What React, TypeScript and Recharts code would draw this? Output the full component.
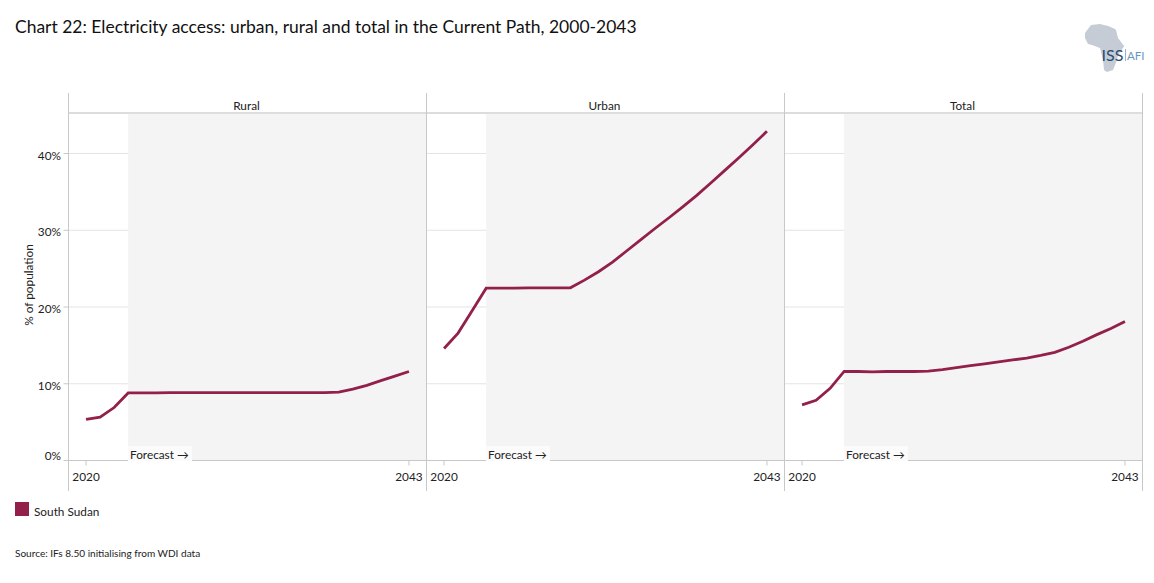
import React from "react";
import { LineChart, Line, XAxis, YAxis, CartesianGrid, ReferenceArea, ReferenceLine } from "recharts";

const years = [2020,2021,2022,2023,2024,2025,2026,2027,2028,2029,2030,2031,2032,2033,2034,2035,2036,2037,2038,2039,2040,2041,2042,2043];
const rural = [5.35,5.65,6.9,8.8,8.8,8.8,8.85,8.85,8.85,8.85,8.85,8.85,8.85,8.85,8.85,8.85,8.85,8.85,8.9,9.3,9.8,10.4,11.0,11.6];
const urban = [14.6,16.6,19.5,22.45,22.45,22.45,22.5,22.5,22.5,22.5,23.5,24.6,25.85,27.3,28.75,30.2,31.6,33.05,34.55,36.15,37.8,39.45,41.15,42.9];
const total = [7.25,7.85,9.4,11.6,11.6,11.55,11.6,11.6,11.6,11.65,11.85,12.1,12.35,12.6,12.85,13.1,13.35,13.7,14.1,14.75,15.55,16.4,17.2,18.1];
const yTicks = [0,10,20,30,40];
const xTicks = [2020,2043];
const panels = [
  { name: "Rural", values: rural },
  { name: "Urban", values: urban },
  { name: "Total", values: total },
];
const seriesName = "South Sudan";
const FONT = "Lato, Carlito, sans-serif";
const RED = "#93204a";
const GREY = "#c8c8c8";
const TOP = 113;
const BOTTOM = 460.5;
const PW = 358;
const X0 = 68.5;

const YTick = (p: any) => {
  const v = p.payload.value;
  const dy = v === 0 ? -1 : 6;
  return <text x={61} y={p.y + dy} textAnchor="end" fontSize={11.8} fill="#222" fontFamily={FONT}>{v}%</text>;
};
const XTick = (p: any) => (
  <text x={p.x} y={480.5} textAnchor="middle" fontSize={11.8} fill="#222" fontFamily={FONT}>{p.payload.value}</text>
);

function Panel({ i }: { i: number }) {
  const data = years.map((y, k) => ({ year: y, v: panels[i].values[k] }));
  const first = i === 0;
  const left = first ? 0 : Math.floor(X0 + PW * i);
  const ml = first ? 0 : X0 + PW * i - left;
  return (
    <div style={{ position: "absolute", left, top: 0 }}>
      <LineChart width={(first ? X0 : ml) + PW + 1} height={583} data={data}
        margin={{ top: TOP, bottom: 583 - BOTTOM - 30, left: ml, right: 1 }}>
        <ReferenceArea x1={2023} x2={2044.25} y1={0} y2={45.28} fill="#f4f4f4" fillOpacity={1} stroke="none" ifOverflow="hidden" />
        <CartesianGrid vertical={false} stroke="#e4e4e4" strokeWidth={1} />
        <XAxis dataKey="year" type="number" domain={[2018.75, 2044.25]} ticks={xTicks} tick={XTick as any}
          tickLine={{ stroke: GREY }} tickSize={5} axisLine={{ stroke: GREY }} height={30} allowDataOverflow />
        <YAxis type="number" domain={[0, 45.28]} ticks={yTicks} hide={!first} width={first ? X0 : 0} tick={YTick as any}
          tickLine={{ stroke: GREY }} tickSize={5} axisLine={false} allowDataOverflow
          label={{ value: "% of population", angle: -90, position: "insideLeft", offset: 29, fontSize: 11.8, fill: "#222", fontFamily: FONT, dy: 39 }} />
        <ReferenceLine y={45.28} stroke={GREY} strokeWidth={1} ifOverflow="extendDomain" />
        <Line dataKey="v" name={seriesName} stroke={RED} strokeWidth={2.8} dot={false} isAnimationActive={false} type="linear" />
      </LineChart>
      <div style={{ position: "absolute", left: (first ? X0 : ml) + 59.5, top: 446, width: 64, height: 14.5, background: "#fbfbfb", fontSize: 11.8, lineHeight: "18px", paddingLeft: 2, boxSizing: "border-box", color: "#222", whiteSpace: "nowrap" }}>Forecast →</div>
      <div style={{ position: "absolute", left: (first ? X0 : ml) - 1, width: PW, top: 98, textAlign: "center", fontSize: 11.8, color: "#222" }}>{panels[i].name}</div>
    </div>
  );
}

export default function App() {
  return (
    <div style={{ position: "absolute", left: 0, top: 0, width: 1154, height: 583, background: "#fff", fontFamily: FONT, overflow: "hidden" }}>
      <div style={{ position: "absolute", left: 15, top: 16, fontSize: 17.48, color: "#111", whiteSpace: "nowrap" }}>Chart 22: Electricity access: urban, rural and total in the Current Path, 2000-2043</div>
      {panels.map((_, i) => <Panel key={i} i={i} />)}
      {[0, 1, 2, 3].map((i) => (
        <div key={i} style={{ position: "absolute", left: 68 + PW * i, top: 93, width: 1, height: 398, background: GREY }} />
      ))}
      <div style={{ position: "absolute", left: 15, top: 502, width: 14, height: 14, background: RED }} />
      <div style={{ position: "absolute", left: 34, top: 504, fontSize: 11.8, color: "#222" }}>{seriesName}</div>
      <div style={{ position: "absolute", left: 15, top: 547, fontSize: 10.05, color: "#222" }}>Source: IFs 8.50 initialising from WDI data</div>
      <svg style={{ position: "absolute", left: 1050, top: 10 }} width={104} height={70}>
        <path d="M35 23 L41 15 L50 14 L58 16 L65 19 L66 20 L68 28 L74 36 L75 35 L68 45 L67 50 L63 60 L57 62 L54 60 L53 50 L50 38 L42 35 L38 34 L35 28 Z" fill="#c5ccd6" />
        <text x={51.5} y={51} fontSize={16} fill="#2b4a6f" fontFamily={FONT}>ISS</text>
        <rect x={75} y={39} width={0.8} height={12} fill="#7fa3c4" />
        <text x={77} y={50} fontSize={11.5} fill="#6a97c0" fontFamily={FONT}>AFI</text>
      </svg>
    </div>
  );
}
